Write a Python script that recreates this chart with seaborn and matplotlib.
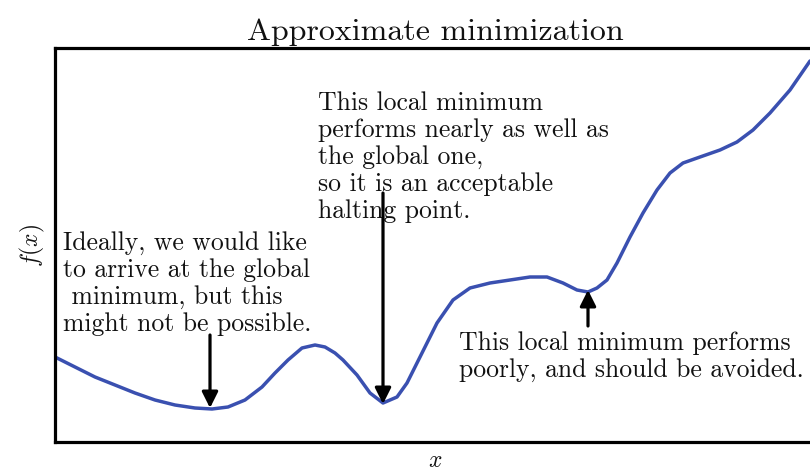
import matplotlib
matplotlib.use("Agg")
import matplotlib.pyplot as plt
import seaborn as sns

# curve (arbitrary units)
x = [0.00, 0.20, 0.40, 0.60, 0.80, 1.00, 1.20, 1.40, 1.57, 1.73, 1.90, 2.07, 2.20,
     2.33, 2.47, 2.60, 2.70, 2.80, 2.88, 3.02, 3.15, 3.28, 3.42, 3.52, 3.65, 3.82,
     3.98, 4.15, 4.35, 4.55, 4.75, 4.92, 5.08, 5.22, 5.33, 5.42, 5.52, 5.62, 5.75,
     5.88, 6.02, 6.15, 6.28, 6.45, 6.65, 6.82, 6.98, 7.15, 7.35, 7.55]
fx = [0.85, 0.75, 0.65, 0.57, 0.49, 0.42, 0.37, 0.34, 0.33, 0.35, 0.42, 0.55, 0.69,
      0.82, 0.94, 0.97, 0.95, 0.89, 0.82, 0.67, 0.49, 0.39, 0.45, 0.59, 0.85, 1.19,
      1.42, 1.54, 1.59, 1.62, 1.65, 1.65, 1.59, 1.52, 1.50, 1.54, 1.62, 1.79, 2.05,
      2.29, 2.52, 2.69, 2.79, 2.85, 2.92, 3.00, 3.12, 3.29, 3.52, 3.81]

notes = [
    "Ideally, we would like\nto arrive at the global\n minimum, but this\nmight not be possible.",
    "This local minimum\nperforms nearly as well as\nthe global one,\nso it is an acceptable\nhalting point.",
    "This local minimum performs\npoorly, and should be avoided.",
]
note_pos = [(0.08, 2.11), (2.63, 3.51), (4.04, 1.11)]
arrow_tail = [(1.55, 1.07), (3.28, 2.49), (5.33, 1.16)]
arrow_head = [(1.55, 0.34), (3.28, 0.38), (5.33, 1.52)]

sns.set_style("white")
plt.rcParams["font.family"] = "serif"
plt.rcParams["font.serif"] = ["cmr10", "DejaVu Serif"]
plt.rcParams["mathtext.fontset"] = "cm"
plt.rcParams["axes.formatter.use_mathtext"] = True
plt.rcParams["text.color"] = "#111111"
plt.rcParams["axes.labelcolor"] = "#111111"

fig = plt.figure(figsize=(8.1, 4.75), dpi=100)
ax = fig.add_axes([55 / 810, 1 - 442 / 475, 760 / 810, 394 / 475])

sns.lineplot(x=x, y=fx, ax=ax, color="#3a50b0", linewidth=2.5)
ax.lines[0].set_solid_joinstyle("round")

for txt, (tx, ty) in zip(notes, note_pos):
    ax.text(tx, ty, txt, fontsize=18.5, va="top", ha="left", linespacing=1.18)

for tail, head in zip(arrow_tail, arrow_head):
    ax.annotate("", xy=head, xytext=tail,
                arrowprops=dict(arrowstyle="-|>", color="black", lw=2.3,
                                mutation_scale=24, shrinkA=0, shrinkB=0))

ax.set_xlim(0, 7.6)
ax.set_ylim(0, 3.94)
ax.set_xticks([])
ax.set_yticks([])
for s in ax.spines.values():
    s.set_linewidth(2.3)
    s.set_color("black")

ax.set_title("Approximate minimization", fontsize=23, pad=6)
ax.set_xlabel("$x$", fontsize=17, labelpad=6)
ax.set_ylabel("$f(x)$", fontsize=17, labelpad=6)

fig.savefig("out.png", dpi=100)
